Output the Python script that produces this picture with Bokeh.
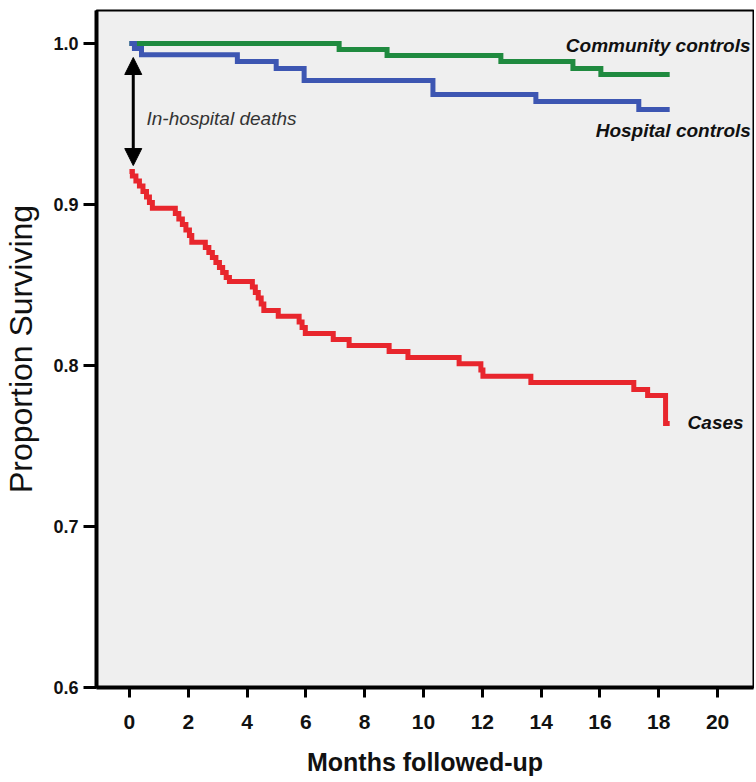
from bokeh.plotting import figure
from bokeh.models import FixedTicker, NumeralTickFormatter, Range1d, Arrow, NormalHead, Label
from bokeh.embed import file_html
from bokeh.resources import INLINE

# ---- data ----
community_t = [0, 7.13, 8.76, 12.63, 15.08, 16.03, 18.37]
community_s = [1.0, 0.9963, 0.9925, 0.9888, 0.9845, 0.9807, 0.9807]

hospital_t = [0, 0.17, 0.41, 3.67, 4.99, 5.94, 10.32, 13.82, 17.32, 18.37]
hospital_s = [1.0, 0.9969, 0.9930, 0.9888, 0.9845, 0.9770, 0.9683, 0.9640, 0.9590, 0.9590]

cases_t = [0, 0.10, 0.22, 0.34, 0.46, 0.58, 0.68, 0.78, 1.56, 1.68, 1.80, 1.92, 2.04, 2.12,
           2.58, 2.70, 2.82, 2.94, 3.06, 3.17, 3.29, 3.40, 4.18, 4.28, 4.38, 4.48, 4.57,
           5.06, 5.77, 5.87, 5.98, 6.93, 7.47, 8.83, 9.47, 11.21, 11.95, 12.02, 13.65,
           17.15, 17.62, 18.23, 18.37]
cases_s = [0.9205, 0.9177, 0.9146, 0.9115, 0.9081, 0.9047, 0.9012, 0.8977, 0.8944, 0.8910,
           0.8876, 0.8842, 0.8807, 0.8766, 0.8733, 0.8702, 0.8671, 0.8640, 0.8609, 0.8578,
           0.8547, 0.8522, 0.8488, 0.8453, 0.8419, 0.8382, 0.8342, 0.8306, 0.8270, 0.8236,
           0.8199, 0.8161, 0.8124, 0.8087, 0.8050, 0.8011, 0.7972, 0.7934, 0.7894, 0.7851,
           0.7814, 0.7640, 0.7640]

x_ticks = [0, 2, 4, 6, 8, 10, 12, 14, 16, 18, 20]
y_ticks = [0.6, 0.7, 0.8, 0.9, 1.0]

x_title = "Months followed-up"
y_title = "Proportion Surviving"

series_labels = ["Community controls", "Hospital controls", "Cases"]
label_x = [21.12, 21.13, 18.98]
label_y = [0.9988, 0.9460, 0.7649]
label_align = ["right", "right", "left"]

arrow_x = 0.13
arrow_y_top = 0.9913
arrow_y_bottom = 0.9242
arrow_text = "In-hospital deaths"
arrow_text_x = 0.58
arrow_text_y = 0.9534

GREEN = "#1f8a3f"
BLUE = "#3d56b2"
RED = "#e8262d"

SANS = "'Liberation Sans', Arial, sans-serif"

p = figure(width=754, height=782, output_backend="svg", toolbar_location=None,
           x_range=Range1d(-1.12, 21.22), y_range=Range1d(0.6, 1.0205),
           min_border_left=95, min_border_right=1, min_border_top=10, min_border_bottom=95)

p.background_fill_color = "#efefef"
p.border_fill_color = "white"
p.outline_line_color = "black"
p.outline_line_width = 2
p.xgrid.visible = False
p.ygrid.visible = False

p.step(community_t, community_s, mode="after", line_color=GREEN, line_width=5, line_join="miter")
p.step(hospital_t, hospital_s, mode="after", line_color=BLUE, line_width=5, line_join="miter")
p.step(cases_t, cases_s, mode="after", line_color=RED, line_width=5, line_join="miter")

# axes
xa = p.xaxis[0]
xa.ticker = FixedTicker(ticks=x_ticks)
xa.axis_line_width = 4
xa.axis_line_color = "black"
xa.major_tick_line_width = 3
xa.major_tick_out = 10
xa.major_tick_in = 0
xa.minor_tick_line_color = None
xa.major_label_text_font = SANS
xa.major_label_text_font_style = "bold"
xa.major_label_text_font_size = "21px"
xa.major_label_text_color = "#111111"
xa.major_label_standoff = 17
xa.axis_label = x_title
xa.axis_label_text_font = SANS
xa.axis_label_text_font_style = "bold"
xa.axis_label_text_font_size = "25px"
xa.axis_label_text_color = "#111111"
xa.axis_label_standoff = 16

ya = p.yaxis[0]
ya.ticker = FixedTicker(ticks=y_ticks)
ya.formatter = NumeralTickFormatter(format="0.0")
ya.axis_line_width = 4
ya.axis_line_color = "black"
ya.major_tick_line_width = 3
ya.major_tick_out = 13
ya.major_tick_in = 0
ya.minor_tick_line_color = None
ya.major_label_text_font = SANS
ya.major_label_text_font_style = "bold"
ya.major_label_text_font_size = "18px"
ya.major_label_text_color = "#111111"
ya.major_label_standoff = 5
ya.axis_label = y_title
ya.axis_label_text_font = SANS
ya.axis_label_text_font_style = "normal"
ya.axis_label_text_font_size = "32px"
ya.axis_label_text_color = "#111111"
ya.axis_label_standoff = 11

# series labels
for t, lx, ly, al in zip(series_labels, label_x, label_y, label_align):
    p.add_layout(Label(x=lx, y=ly, text=t, text_align=al, text_baseline="middle",
                       text_font=SANS, text_font_style="bold italic",
                       text_font_size="19px", text_color="#111111"))

# in-hospital deaths arrow
p.add_layout(Arrow(x_start=arrow_x, y_start=arrow_y_bottom, x_end=arrow_x, y_end=arrow_y_top,
                   line_width=3, line_color="black",
                   start=NormalHead(size=17, fill_color="black", line_color="black", line_width=1),
                   end=NormalHead(size=17, fill_color="black", line_color="black", line_width=1)))
p.add_layout(Label(x=arrow_text_x, y=arrow_text_y, text=arrow_text, text_align="left",
                   text_baseline="middle", text_font=SANS, text_font_style="italic",
                   text_font_size="19px", text_color="#333333"))

open("out.html", "w").write(file_html(p, INLINE))
